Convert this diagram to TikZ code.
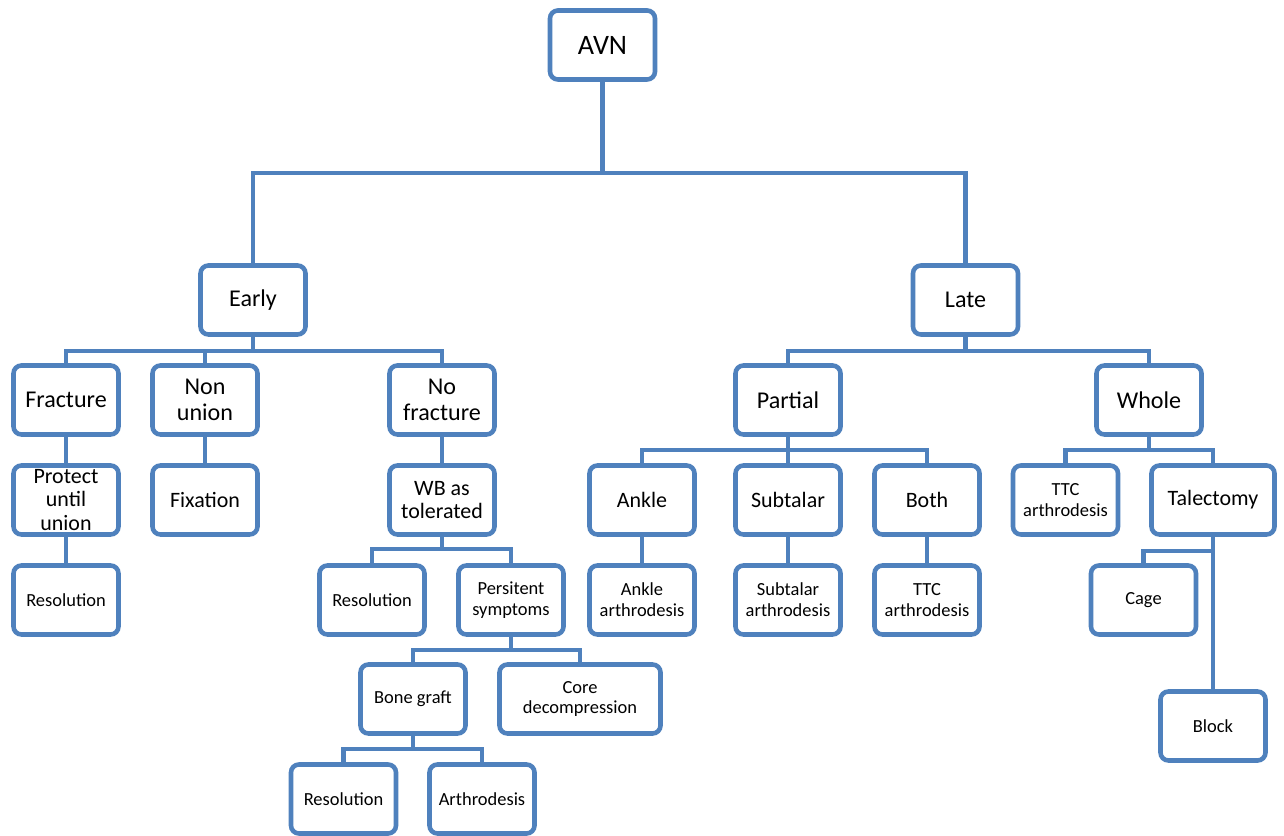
\documentclass[tikz,border=0pt]{standalone}
\usepackage{fontspec}
\setmainfont{Carlito}
\usetikzlibrary{positioning}
\definecolor{avnblue}{HTML}{4F81BD}
\tikzset{
    box/.style={
        rectangle, rounded corners=4.5pt, draw=avnblue, line width=2.6pt,
        minimum width=2.1cm, minimum height=1.38cm,
        fill=white, align=center, inner sep=1pt
    },
    topbox/.style={box, font=\fontsize{16}{17.6}\selectfont},
    mainbox/.style={box, font=\fontsize{13.7}{15.1}\selectfont},
    midbox/.style={box, font=\fontsize{12.5}{13.4}\selectfont},
    smallbox/.style={box, font=\fontsize{10.5}{11.8}\selectfont},
    link/.style={draw=avnblue, line width=2.6pt}
}

\begin{document}
\begin{tikzpicture}
\useasboundingbox (0,0) rectangle (25.68,-16.72);

% Root
\node[topbox] (avn) at (12.05,-0.9) {AVN};

% Stages
\node[mainbox] (early) at (5.06,-6.0) {Early};
\node[mainbox] (late) at (19.31,-6.0) {Late};

\coordinate (avnjoin) at (12.05,-3.46);
\draw[link] (avn.south) -- (avnjoin);
\draw[link] (avnjoin) -| (early.north);
\draw[link] (avnjoin) -| (late.north);

% Early branch
\node[mainbox] (fracture) at (1.32,-8.0) {Fracture};
\node[mainbox] (nonunion) at (4.1,-8.0) {Non\\union};
\node[mainbox] (nofracture) at (8.84,-8.0) {No\\fracture};

\coordinate (earlyjoin) at (5.06,-7.02);
\draw[link] (early.south) -- (earlyjoin);
\draw[link] (earlyjoin) -| (fracture.north);
\draw[link] (earlyjoin) -| (nonunion.north);
\draw[link] (earlyjoin) -| (nofracture.north);

\node[midbox] (protect) at (1.32,-10.0) {Protect\\until\\union};
\node[midbox] (fixation) at (4.1,-10.0) {Fixation};
\node[midbox] (wb) at (8.84,-10.0) {WB as\\tolerated};

\draw[link] (fracture) -- (protect);
\draw[link] (nonunion) -- (fixation);
\draw[link] (nofracture) -- (wb);

\node[smallbox] (res1) at (1.32,-12.0) {Resolution};
\draw[link] (protect) -- (res1);

\node[smallbox] (res2) at (7.44,-12.0) {Resolution};
\node[smallbox] (persit) at (10.22,-12.0) {Persitent\\symptoms};

\coordinate (wbjoin) at (8.84,-10.98);
\draw[link] (wb.south) -- (wbjoin);
\draw[link] (wbjoin) -| (res2.north);
\draw[link] (wbjoin) -| (persit.north);

\node[smallbox] (bonegraft) at (8.26,-13.98) {Bone graft};
\node[smallbox, minimum width=3.22cm] (core) at (11.6,-13.98) {Core\\decompression};

\coordinate (persitjoin) at (10.22,-13.0);
\draw[link] (persit.south) -- (persitjoin);
\draw[link] (persitjoin) -| (bonegraft.north);
\draw[link] (persitjoin) -| (core.north);

\node[smallbox] (res3) at (6.87,-15.98) {Resolution};
\node[smallbox] (arthro) at (9.64,-15.98) {Arthrodesis};

\coordinate (bonejoin) at (8.26,-14.98);
\draw[link] (bonegraft.south) -- (bonejoin);
\draw[link] (bonejoin) -| (res3.north);
\draw[link] (bonejoin) -| (arthro.north);

% Late branch
\node[mainbox] (partial) at (15.76,-8.0) {Partial};
\node[mainbox] (whole) at (22.98,-8.0) {Whole};

\coordinate (latejoin) at (19.31,-7.02);
\draw[link] (late.south) -- (latejoin);
\draw[link] (latejoin) -| (partial.north);
\draw[link] (latejoin) -| (whole.north);

\node[midbox] (ankle) at (12.84,-10.0) {Ankle};
\node[midbox] (subtalar) at (15.76,-10.0) {Subtalar};
\node[midbox] (both) at (18.54,-10.0) {Both};

\coordinate (partialjoin) at (15.76,-9.0);
\draw[link] (partial.south) -- (partialjoin);
\draw[link] (partialjoin) -| (ankle.north);
\draw[link] (partialjoin) -| (subtalar.north);
\draw[link] (partialjoin) -| (both.north);

\node[smallbox] (ankar) at (12.84,-12.0) {Ankle\\arthrodesis};
\node[smallbox] (subar) at (15.76,-12.0) {Subtalar\\arthrodesis};
\node[smallbox] (ttcboth) at (18.54,-12.0) {TTC\\arthrodesis};

\draw[link] (ankle) -- (ankar);
\draw[link] (subtalar) -- (subar);
\draw[link] (both) -- (ttcboth);

\node[smallbox] (ttcwhole) at (21.31,-10.0) {TTC\\arthrodesis};
\node[midbox, minimum width=2.46cm] (talectomy) at (24.26,-10.0) {Talectomy};

\coordinate (wholejoin) at (22.98,-9.0);
\draw[link] (whole.south) -- (wholejoin);
\draw[link] (wholejoin) -| (ttcwhole.north);
\draw[link] (wholejoin) -| (talectomy.north);

\node[smallbox] (cage) at (22.87,-12.0) {Cage};
\node[smallbox] (block) at (24.26,-14.52) {Block};

\coordinate (taljoin) at (24.26,-11.02);
\draw[link] (talectomy) -- (block);
\draw[link] (taljoin) -| (cage.north);

\end{tikzpicture}
\end{document}
